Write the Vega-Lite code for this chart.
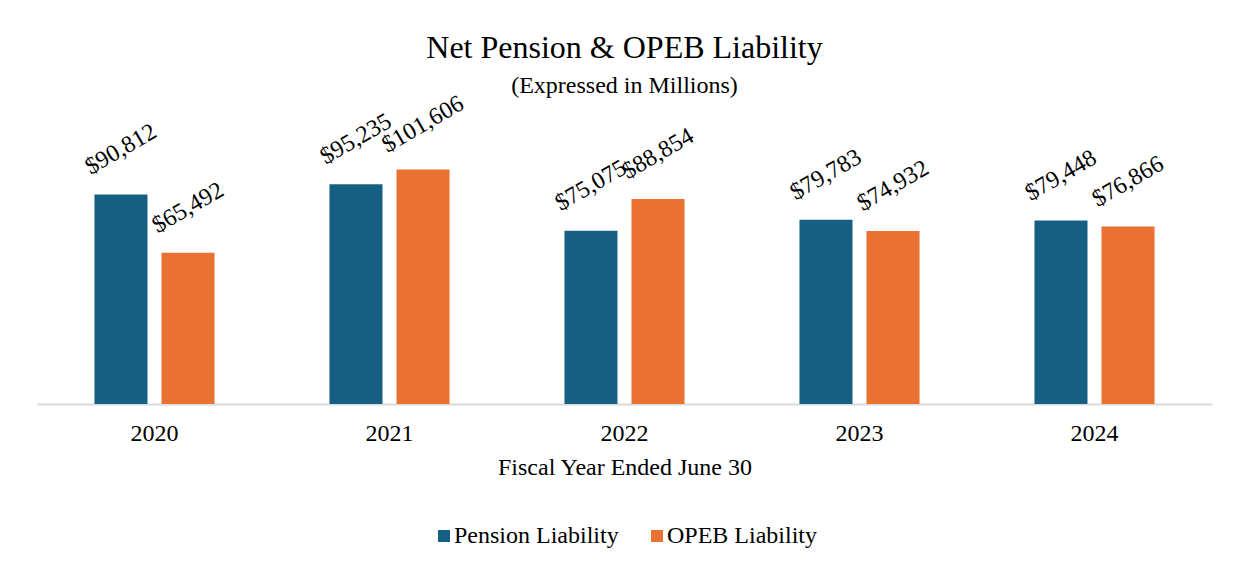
{
  "$schema": "https://vega.github.io/schema/vega-lite/v6.json",
  "width": 1175,
  "height": 277,
  "padding": {"left": 37, "top": 31, "right": 24, "bottom": 0},
  "background": "white",
  "title": {
    "text": "Net Pension & OPEB Liability",
    "subtitle": "(Expressed in Millions)",
    "fontSize": 32,
    "subtitleFontSize": 24,
    "font": "Liberation Serif",
    "subtitleFont": "Liberation Serif",
    "fontWeight": "normal",
    "color": "#000000",
    "subtitleColor": "#000000",
    "anchor": "middle",
    "frame": "group",
    "offset": -7,
    "subtitlePadding": 9
  },
  "data": {
    "values": [
      {"year": "2020", "series": "Pension Liability", "value": 90812},
      {"year": "2020", "series": "OPEB Liability", "value": 65492},
      {"year": "2021", "series": "Pension Liability", "value": 95235},
      {"year": "2021", "series": "OPEB Liability", "value": 101606},
      {"year": "2022", "series": "Pension Liability", "value": 75075},
      {"year": "2022", "series": "OPEB Liability", "value": 88854},
      {"year": "2023", "series": "Pension Liability", "value": 79783},
      {"year": "2023", "series": "OPEB Liability", "value": 74932},
      {"year": "2024", "series": "Pension Liability", "value": 79448},
      {"year": "2024", "series": "OPEB Liability", "value": 76866}
    ]
  },
  "encoding": {
    "x": {
      "field": "year",
      "type": "nominal",
      "title": "Fiscal Year Ended June 30",
      "scale": {"paddingInner": 0.489, "paddingOuter": 0.2445},
      "axis": {
        "labelAngle": 0,
        "ticks": false,
        "domainColor": "#d9d9d9",
        "domainWidth": 2,
        "labelFontSize": 24,
        "labelFont": "Liberation Serif",
        "labelColor": "#000000",
        "labelPadding": 17,
        "titleFontSize": 24,
        "titleFont": "Liberation Serif",
        "titleFontWeight": "normal",
        "titleColor": "#000000",
        "titlePadding": 10
      }
    },
    "xOffset": {
      "field": "series",
      "type": "nominal",
      "sort": ["Pension Liability", "OPEB Liability"],
      "scale": {"paddingInner": 0.209, "paddingOuter": 0}
    },
    "y": {
      "field": "value",
      "type": "quantitative",
      "scale": {"domain": [0, 120000]},
      "axis": null
    }
  },
  "layer": [
    {
      "mark": {"type": "bar"},
      "encoding": {
        "color": {
          "field": "series",
          "type": "nominal",
          "sort": ["Pension Liability", "OPEB Liability"],
          "scale": {"domain": ["Pension Liability", "OPEB Liability"], "range": ["#156082", "#E97132"]},
          "legend": {
            "orient": "bottom",
            "title": null,
            "symbolType": "square",
            "symbolSize": 144,
            "symbolStrokeWidth": 0,
            "labelFontSize": 24,
            "labelFont": "Liberation Serif",
            "labelColor": "#000000",
            "labelLimit": 400,
            "labelOffset": -2,
            "columnPadding": 26,
            "offset": 45
          }
        }
      }
    },
    {
      "mark": {
        "type": "text",
        "angle": 330,
        "align": "center",
        "baseline": "middle",
        "yOffset": -45,
        "fontSize": 24,
        "font": "Liberation Serif",
        "color": "#000000"
      },
      "encoding": {
        "text": {"field": "value", "type": "quantitative", "format": "$,.0f"}
      }
    }
  ],
  "config": {
    "view": {"stroke": null},
    "legend": {"layout": {"bottom": {"anchor": "middle"}}}
  }
}
